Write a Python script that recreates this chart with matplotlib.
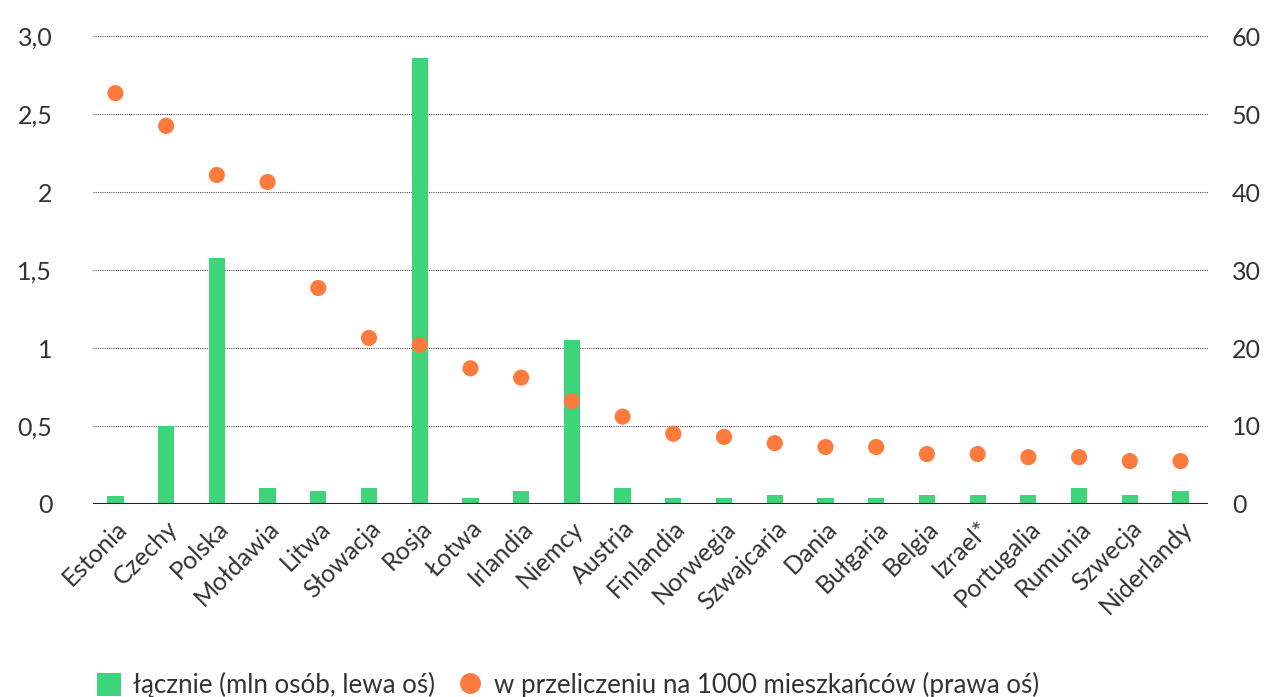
import matplotlib.pyplot as plt
from matplotlib.lines import Line2D
from matplotlib.patches import Patch

plt.rcParams['font.family'] = ['Lato', 'DejaVu Sans']

# kraje oraz dane: liczba osób (mln) i wskaźnik na 1000 mieszkańców
kraje = ["Estonia", "Czechy", "Polska", "Mołdawia", "Litwa", "Słowacja", "Rosja",
         "Łotwa", "Irlandia", "Niemcy", "Austria", "Finlandia", "Norwegia",
         "Szwajcaria", "Dania", "Bułgaria", "Belgia", "Izrael*", "Portugalia",
         "Rumunia", "Szwecja", "Niderlandy"]
lacznie = [0.05, 0.50, 1.58, 0.10, 0.08, 0.10, 2.86, 0.04, 0.08, 1.05, 0.10,
           0.04, 0.04, 0.06, 0.04, 0.04, 0.06, 0.06, 0.06, 0.10, 0.06, 0.08]
na_1000 = [52.7, 48.5, 42.2, 41.3, 27.7, 21.3, 20.4, 17.4, 16.2, 13.2, 11.2,
           9.0, 8.6, 7.8, 7.3, 7.3, 6.4, 6.4, 6.0, 6.0, 5.5, 5.5]

lewe_ticki = [0, 0.5, 1, 1.5, 2, 2.5, 3.0]
lewe_etykiety = ["0", "0,5", "1", "1,5", "2", "2,5", "3,0"]
prawe_ticki = [0, 10, 20, 30, 40, 50, 60]

ZIELONY = '#3dd47a'
POMARANCZ = '#ff7a3d'
TEKST = '#333333'

fig = plt.figure(figsize=(12.68, 6.97), dpi=100)
ax = fig.add_axes([0.073, 0.277, 0.880, 0.671])
ax2 = ax.twinx()

x = range(len(kraje))
ax.bar(x, lacznie, width=0.32, color=ZIELONY, zorder=3)
ax2.scatter(x, na_1000, s=135, color=POMARANCZ, edgecolors='none', zorder=4)

ax.set_ylim(0, 3.0)
ax2.set_ylim(0, 60)
ax.set_xlim(-0.45, 21.55)

# siatka kropkowana
for t in lewe_ticki[1:]:
    ax.axhline(t, color='#555555', lw=0.8, ls=(0, (1, 1)), zorder=1)
ax.axhline(0, color='#222222', lw=1.5, zorder=5)

ax.set_yticks(lewe_ticki)
ax.set_yticklabels(lewe_etykiety)
ax2.set_yticks(prawe_ticki)
ax.set_xticks(list(x))
ax.set_xticklabels(kraje, rotation=45, ha='right', rotation_mode='anchor')

for a in (ax, ax2):
    for s in a.spines.values():
        s.set_visible(False)
ax.tick_params(axis='x', length=0, labelsize=18, colors=TEKST, pad=9)
ax.tick_params(axis='y', length=0, labelsize=18, colors=TEKST, pad=29)
ax2.tick_params(axis='y', length=0, labelsize=18, colors=TEKST, pad=17)

uchwyty = [
    Patch(facecolor=ZIELONY, edgecolor='none'),
    Line2D([], [], marker='o', ls='none', color=POMARANCZ, markersize=14),
]
fig.legend(uchwyty, ["łącznie (mln osób, lewa oś)",
                     "w przeliczeniu na 1000 mieszkańców (prawa oś)"],
           loc='lower left', bbox_to_anchor=(0.058, -0.035), ncol=2, frameon=False,
           fontsize=18.6, labelcolor=TEKST, handlelength=0.95, handleheight=1.0,
           handletextpad=0.45, columnspacing=0.9)

fig.savefig('out.png', dpi=100)
